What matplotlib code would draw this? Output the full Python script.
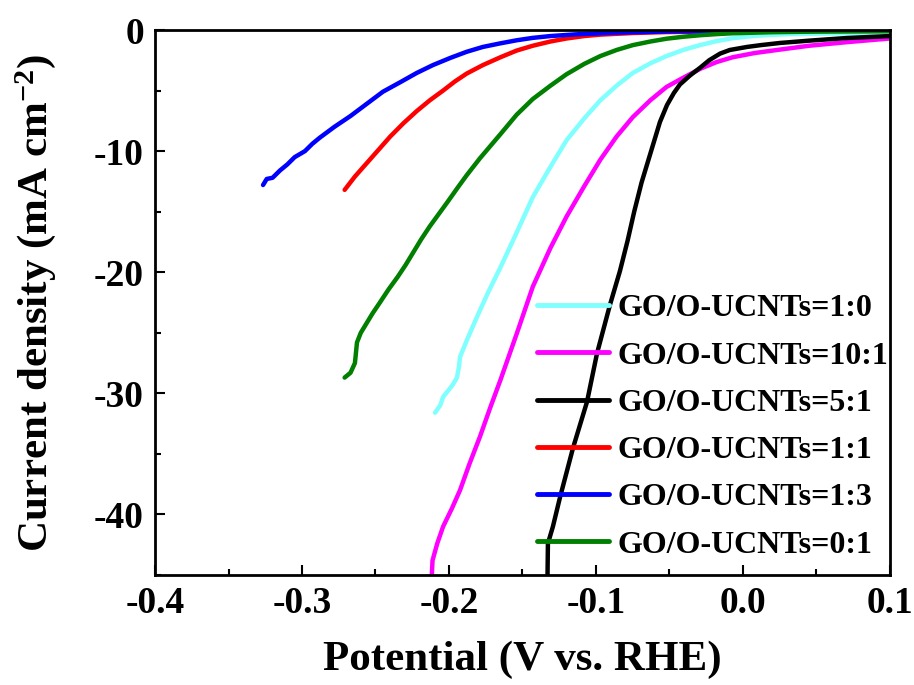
import matplotlib
matplotlib.use("Agg")
import matplotlib.pyplot as plt
from matplotlib.ticker import MultipleLocator

plt.rcParams['font.family'] = ['Liberation Serif', 'DejaVu Serif']
plt.rcParams['font.weight'] = 'bold'
plt.rcParams['mathtext.fontset'] = 'custom'
plt.rcParams['mathtext.rm'] = 'Liberation Serif:bold'
plt.rcParams['mathtext.it'] = 'Liberation Serif:bold'
plt.rcParams['mathtext.bf'] = 'Liberation Serif:bold'

labels = ['GO/O-UCNTs=1:0', 'GO/O-UCNTs=10:1', 'GO/O-UCNTs=5:1',
          'GO/O-UCNTs=1:1', 'GO/O-UCNTs=1:3', 'GO/O-UCNTs=0:1']
colors = ['#80FFFF', '#FF00FF', '#000000', '#FF0000', '#0000FF', '#007F00']

v_10 = [-0.2095, -0.206, -0.204, -0.1975, -0.1946, -0.1932, -0.1925, -0.1878, -0.181,
        -0.1735, -0.165, -0.155, -0.143, -0.131, -0.120, -0.108, -0.097, -0.086,
        -0.075, -0.063, -0.052, -0.040, -0.029, -0.018, -0.007, 0.005, 0.016, 0.03,
        0.05, 0.075, 0.1]
j_10 = [-31.6, -31.0, -30.3, -29.3, -28.7, -27.8, -27.0, -25.6, -23.7,
        -21.7, -19.6, -17.0, -13.8, -11.3, -9.1, -7.3, -5.8, -4.6,
        -3.55, -2.75, -2.15, -1.62, -1.24, -0.92, -0.68, -0.52, -0.42, -0.35,
        -0.3, -0.27, -0.25]

v_101 = [-0.2118, -0.2112, -0.208, -0.204, -0.198, -0.1925, -0.186, -0.179, -0.172,
         -0.165, -0.1537, -0.143, -0.131, -0.120, -0.108, -0.097, -0.086, -0.075,
         -0.063, -0.052, -0.040, -0.029, -0.018, -0.007, 0.008, 0.025, 0.045,
         0.071, 0.1]
j_101 = [-45.3, -43.8, -42.4, -41.0, -39.5, -38.0, -35.8, -33.6, -31.2,
         -28.9, -25.0, -21.2, -18.0, -15.4, -12.9, -10.7, -8.8, -7.2,
         -5.8, -4.7, -3.9, -3.2, -2.65, -2.25, -1.9, -1.62, -1.3,
         -1.0, -0.7]

v_51 = [-0.1330, -0.1327, -0.1293, -0.1245, -0.1156, -0.1061, -0.0993, -0.0905,
        -0.0837, -0.0785, -0.0740, -0.0690, -0.0625, -0.0565, -0.0517, -0.0470,
        -0.0429, -0.036, -0.029, -0.023, -0.0156, -0.009, 0.0027, 0.012, 0.0252,
        0.045, 0.0707, 0.1]
j_51 = [-45.3, -42.4, -41.0, -38.6, -34.5, -30.7, -26.7, -22.7,
        -19.9, -17.4, -15.0, -12.6, -10.0, -7.6, -6.2, -5.2,
        -4.5, -3.75, -3.1, -2.5, -1.95, -1.65, -1.4, -1.25, -1.07,
        -0.88, -0.66, -0.5]

v_11 = [-0.271, -0.264, -0.256, -0.248, -0.240, -0.231, -0.222, -0.213, -0.204,
        -0.196, -0.188, -0.177, -0.165, -0.154, -0.143, -0.131, -0.120, -0.108,
        -0.097, -0.075, -0.052, -0.02, 0.03, 0.1]
j_11 = [-13.2, -12.1, -11.0, -9.9, -8.8, -7.7, -6.7, -5.8, -5.0,
        -4.25, -3.6, -2.9, -2.25, -1.7, -1.3, -0.95, -0.7, -0.5,
        -0.38, -0.25, -0.17, -0.12, -0.09, -0.07]

v_13 = [-0.3265, -0.324, -0.320, -0.315, -0.310, -0.305, -0.298, -0.293, -0.288,
        -0.278, -0.267, -0.256, -0.245, -0.233, -0.222, -0.211, -0.199, -0.188,
        -0.177, -0.165, -0.154, -0.143, -0.131, -0.114, -0.097, -0.075, -0.05,
        0.0, 0.1]
j_13 = [-12.8, -12.3, -12.2, -11.6, -11.1, -10.5, -10.0, -9.4, -8.9,
        -8.0, -7.1, -6.1, -5.1, -4.3, -3.55, -2.9, -2.3, -1.8,
        -1.4, -1.1, -0.85, -0.65, -0.5, -0.36, -0.27, -0.18, -0.12,
        -0.08, -0.05]

v_01 = [-0.271, -0.267, -0.264, -0.2626, -0.260, -0.257, -0.252, -0.247, -0.241,
        -0.235, -0.2295, -0.2245, -0.219, -0.213, -0.207, -0.201, -0.194, -0.188,
        -0.179, -0.172, -0.165, -0.154, -0.143, -0.131, -0.120, -0.108, -0.097,
        -0.086, -0.075, -0.063, -0.052, -0.040, -0.029, -0.018, -0.007, 0.02,
        0.05, 0.1]
j_01 = [-28.7, -28.3, -27.5, -25.8, -25.0, -24.4, -23.4, -22.5, -21.4,
        -20.4, -19.4, -18.4, -17.3, -16.2, -15.2, -14.2, -13.0, -12.0,
        -10.6, -9.6, -8.6, -7.0, -5.7, -4.6, -3.65, -2.8, -2.15,
        -1.65, -1.25, -0.95, -0.72, -0.55, -0.43, -0.34, -0.27, -0.18,
        -0.13, -0.1]

series_v = [v_10, v_101, v_51, v_11, v_13, v_01]
series_j = [j_10, j_101, j_51, j_11, j_13, j_01]

fig = plt.figure(figsize=(9.14, 6.85), dpi=100)
ax = fig.add_axes([0.1696, 0.1606, 0.8041, 0.7956])

for v, j, c, lab in zip(series_v, series_j, colors, labels):
    ax.plot(v, j, color=c, lw=3.2, label=lab, solid_capstyle='round',
            solid_joinstyle='round')

ax.set_xlim(-0.4, 0.1)
ax.set_ylim(-45, 0)
ax.xaxis.set_major_locator(MultipleLocator(0.1))
ax.xaxis.set_minor_locator(MultipleLocator(0.05))
ax.yaxis.set_major_locator(MultipleLocator(10))
ax.yaxis.set_minor_locator(MultipleLocator(5))
ax.tick_params(which='both', direction='in', top=False, right=False, width=1.5)
ax.tick_params(which='major', length=7, labelsize=27, pad=8)
ax.tick_params(which='minor', length=4)
ax.set_xticks([-0.4, -0.3, -0.2, -0.1, 0.0, 0.1])
ax.set_xticklabels(['-0.4', '-0.3', '-0.2', '-0.1', '0.0', '0.1'])
ax.set_yticks([-40, -30, -20, -10, 0])
ax.set_yticklabels(['-40', '-30', '-20', '-10', '0'])
for s in ax.spines.values():
    s.set_linewidth(2.0)

ax.set_xlabel('Potential (V vs. RHE)', fontsize=31, fontweight='bold', labelpad=14)
ax.set_ylabel('Current density (mA cm$^{-2}$)', fontsize=31, fontweight='bold', labelpad=26)

leg = ax.legend(loc='lower right', bbox_to_anchor=(1.018, 0.0), frameon=False,
                fontsize=23, handlelength=2.25, handletextpad=0.25,
                labelspacing=0.56, borderaxespad=0.08)
for line in leg.get_lines():
    line.set_linewidth(3.5)

fig.savefig('out.png', dpi=100)
